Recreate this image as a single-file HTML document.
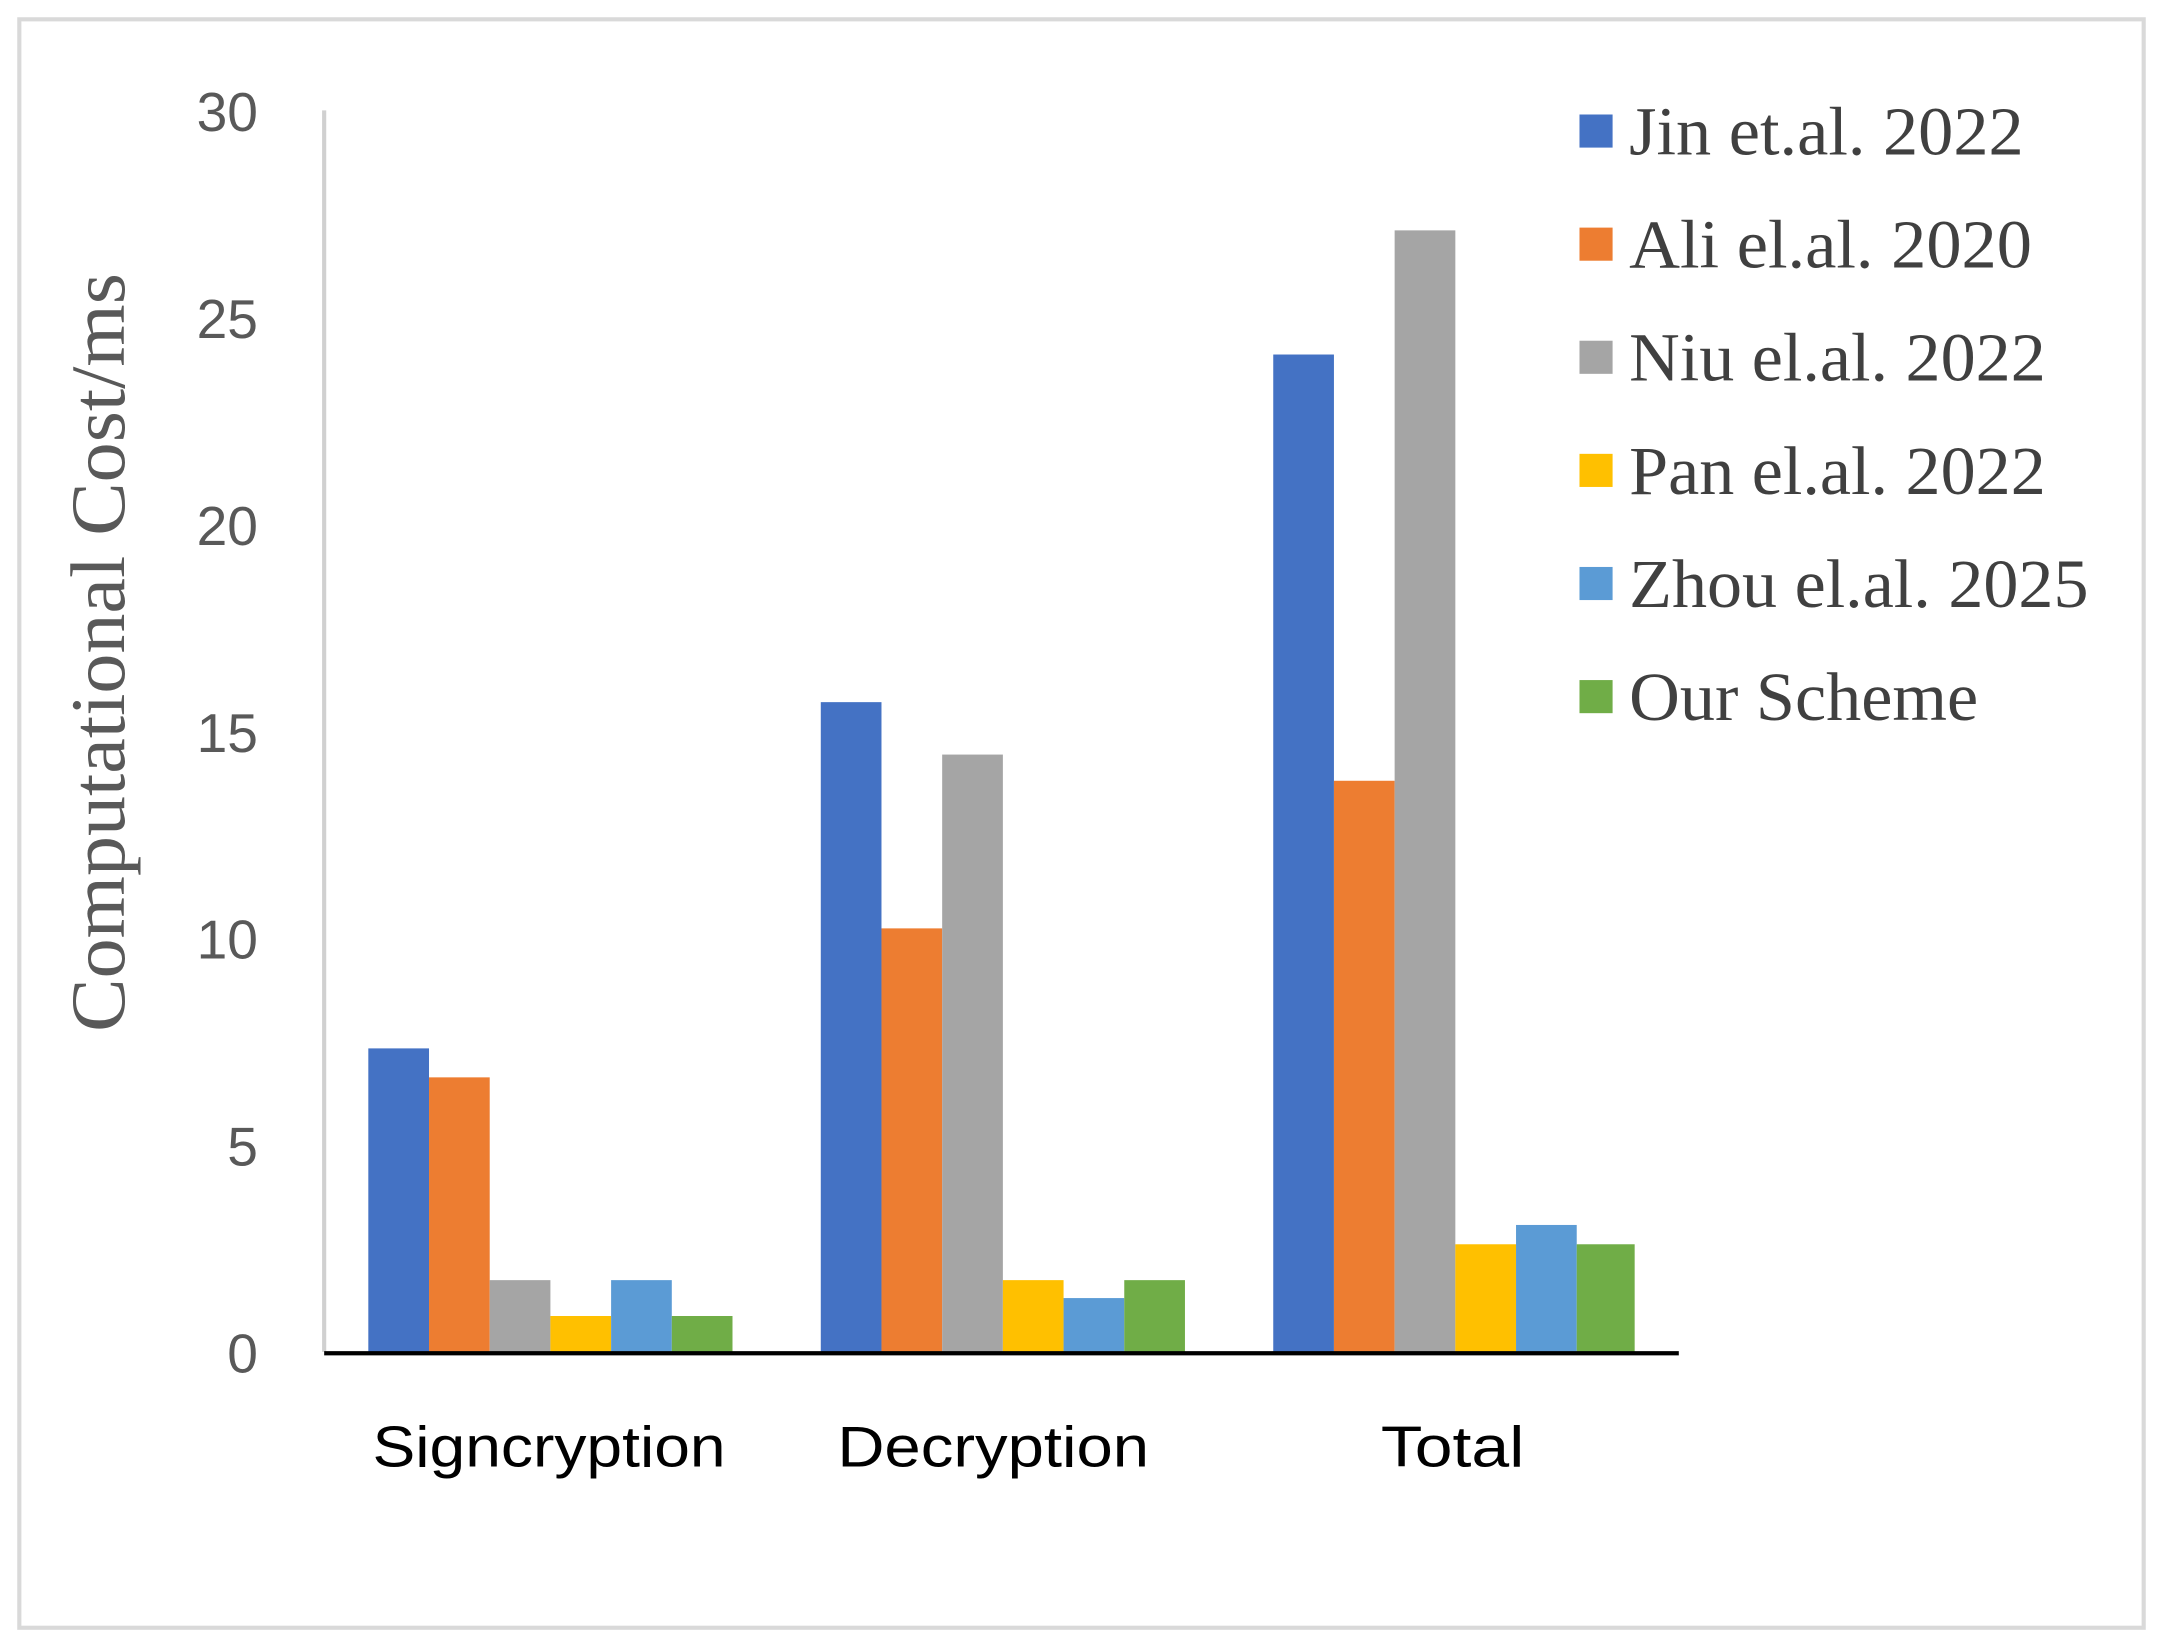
<!DOCTYPE html>
<html><head><style>html,body{margin:0;padding:0;background:#fff}svg{display:block}</style></head>
<body>
<svg width="2163" height="1645" viewBox="0 0 1568 1192.5" preserveAspectRatio="none" xmlns="http://www.w3.org/2000/svg">
<rect x="0" y="0" width="1568" height="1192.5" fill="#fff"/>
<rect x="14" y="14" width="1540" height="1166" fill="none" stroke="#d9d9d9" stroke-width="3"/>
<line x1="235" y1="80" x2="235" y2="980" stroke="#d0d0d0" stroke-width="3"/>
<g font-family="Liberation Sans, sans-serif" font-size="40" fill="#595959" text-anchor="end">
<text x="187" y="95">30</text><text x="187" y="245">25</text><text x="187" y="395">20</text>
<text x="187" y="545">15</text><text x="187" y="695">10</text><text x="187" y="845">5</text><text x="187" y="995">0</text>
</g>
<g>
<rect x="267" y="760" width="44" height="220" fill="#4472c4"/>
<rect x="311" y="781" width="44" height="199" fill="#ed7d31"/>
<rect x="355" y="928" width="44" height="52" fill="#a5a5a5"/>
<rect x="399" y="954" width="44" height="26" fill="#ffc000"/>
<rect x="443" y="928" width="44" height="52" fill="#5b9bd5"/>
<rect x="487" y="954" width="44" height="26" fill="#70ad47"/>
<rect x="595" y="509" width="44" height="471" fill="#4472c4"/>
<rect x="639" y="673" width="44" height="307" fill="#ed7d31"/>
<rect x="683" y="547" width="44" height="433" fill="#a5a5a5"/>
<rect x="727" y="928" width="44" height="52" fill="#ffc000"/>
<rect x="771" y="941" width="44" height="39" fill="#5b9bd5"/>
<rect x="815" y="928" width="44" height="52" fill="#70ad47"/>
<rect x="923" y="257" width="44" height="723" fill="#4472c4"/>
<rect x="967" y="566" width="44" height="414" fill="#ed7d31"/>
<rect x="1011" y="167" width="44" height="813" fill="#a5a5a5"/>
<rect x="1055" y="902" width="44" height="78" fill="#ffc000"/>
<rect x="1099" y="888" width="44" height="92" fill="#5b9bd5"/>
<rect x="1143" y="902" width="42" height="78" fill="#70ad47"/>
</g>
<line x1="235" y1="981" x2="1217" y2="981" stroke="#000" stroke-width="3"/>
<g font-family="Liberation Sans, sans-serif" font-size="42" fill="#000" text-anchor="middle">
<text x="398" y="1063" textLength="256" lengthAdjust="spacingAndGlyphs">Signcryption</text>
<text x="720" y="1063" textLength="226" lengthAdjust="spacingAndGlyphs">Decryption</text>
<text x="1053" y="1063" textLength="104" lengthAdjust="spacingAndGlyphs">Total</text>
</g>
<text transform="translate(90,473) rotate(-90)" font-family="Liberation Serif, serif" font-size="56" fill="#595959" text-anchor="middle" textLength="550" lengthAdjust="spacingAndGlyphs">Computational  Cost/ms</text>
<g font-family="Liberation Serif, serif" font-size="50" fill="#404040">
<rect x="1145" y="83" width="24" height="24" fill="#4472c4"/><text x="1181" y="112" textLength="286" lengthAdjust="spacingAndGlyphs">Jin et.al. 2022</text>
<rect x="1145" y="165" width="24" height="24" fill="#ed7d31"/><text x="1181" y="194" textLength="292" lengthAdjust="spacingAndGlyphs">Ali el.al. 2020</text>
<rect x="1145" y="247" width="24" height="24" fill="#a5a5a5"/><text x="1181" y="276" textLength="302" lengthAdjust="spacingAndGlyphs">Niu el.al. 2022</text>
<rect x="1145" y="329" width="24" height="24" fill="#ffc000"/><text x="1181" y="358" textLength="302" lengthAdjust="spacingAndGlyphs">Pan el.al. 2022</text>
<rect x="1145" y="411" width="24" height="24" fill="#5b9bd5"/><text x="1181" y="440" textLength="333" lengthAdjust="spacingAndGlyphs">Zhou el.al. 2025</text>
<rect x="1145" y="493" width="24" height="24" fill="#70ad47"/><text x="1181" y="522" textLength="253" lengthAdjust="spacingAndGlyphs">Our Scheme</text>
</g>
</svg>
</body></html>
